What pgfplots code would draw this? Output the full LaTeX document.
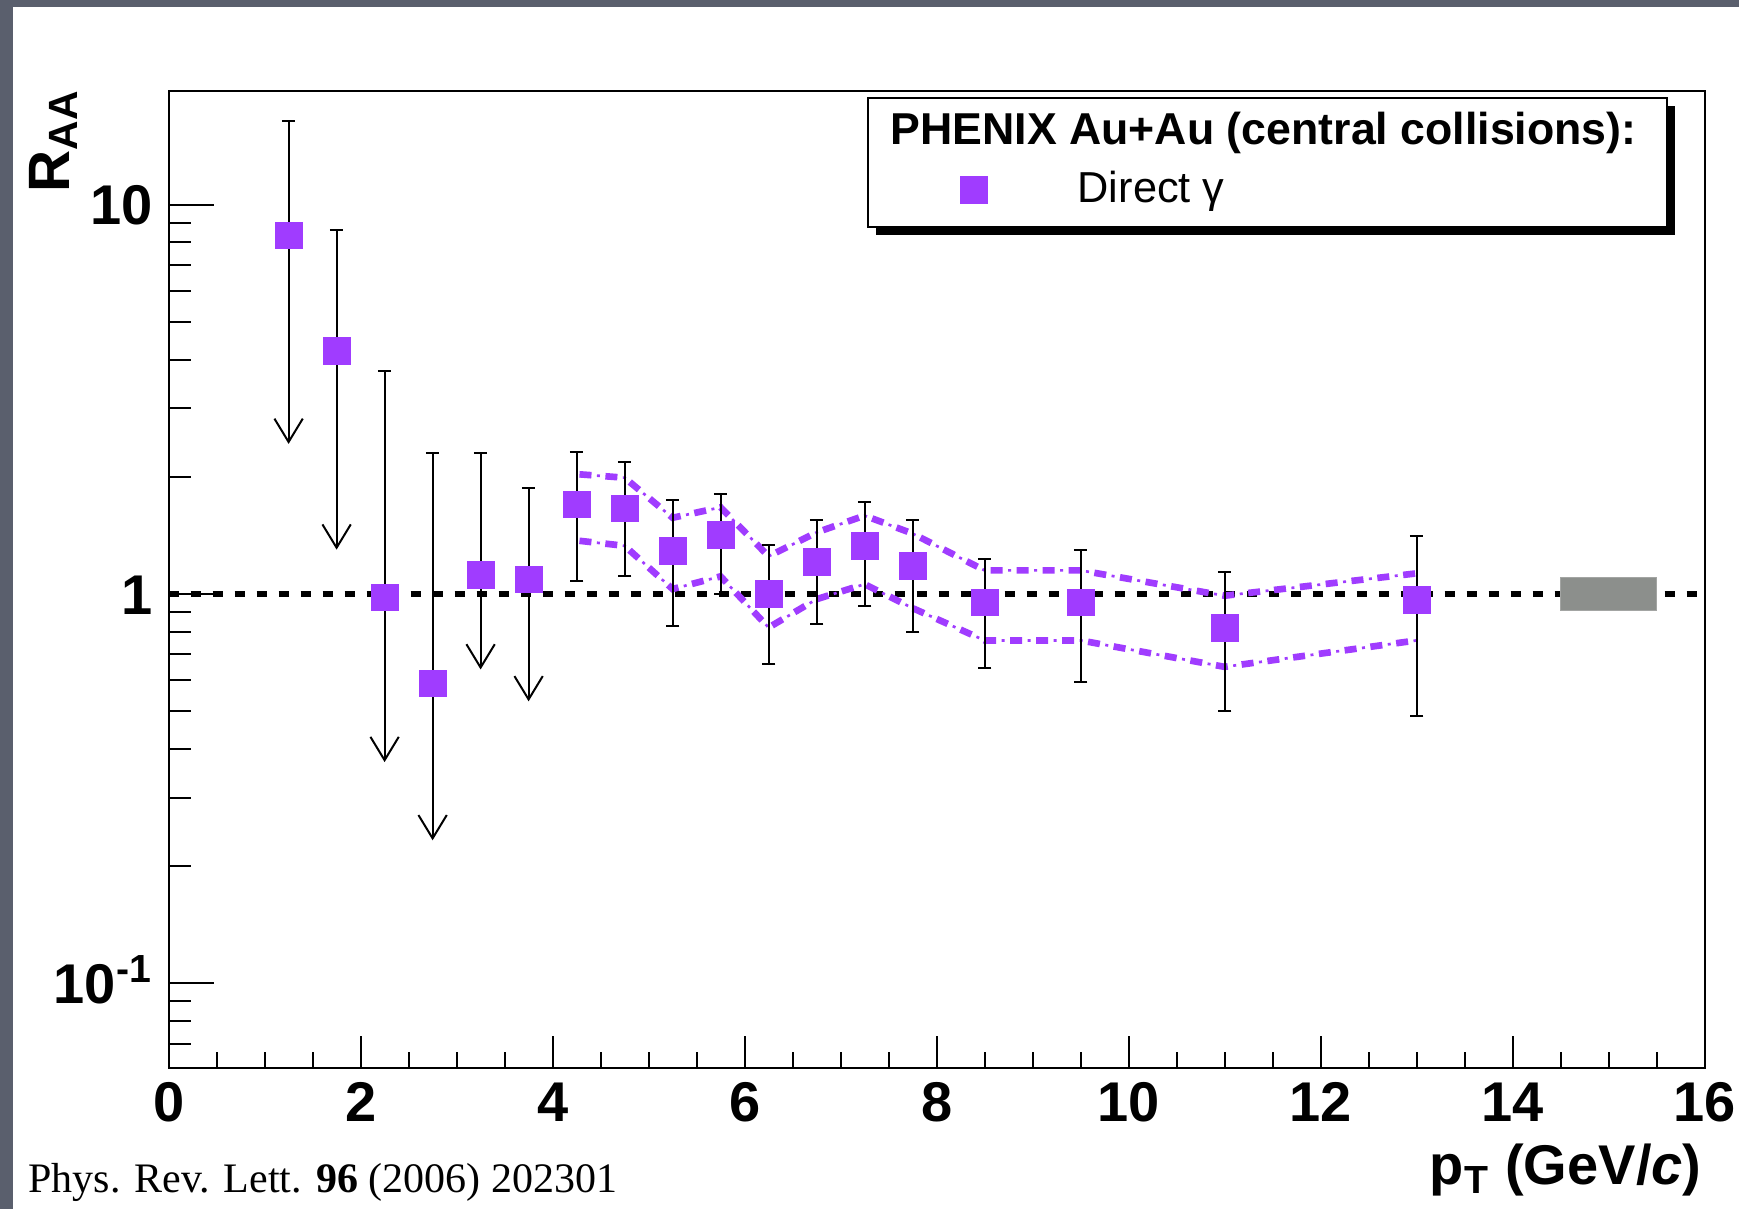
\documentclass[border=0pt]{standalone}
\usepackage{pgfplots}
\pgfplotsset{compat=1.18}
\usepackage{pgfplotstable}
\usepackage{fontspec}
\setmainfont{Liberation Serif}
\setsansfont{Liberation Sans}
\usetikzlibrary{arrows.meta}
\definecolor{slate}{HTML}{5A5F6D}
\definecolor{phpurple}{HTML}{A03CFF}
\definecolor{sysgray}{HTML}{8C8F8C}

% upper limits: marker value, top of error bar, arrow tip
\pgfplotstableread{
x y top tip
1.25 8.35 16.4 2.43
1.75 4.22 8.6 1.30
2.25 0.98 3.73 0.37
2.75 0.59 2.30 0.233
3.25 1.12 2.30 0.64
3.75 1.09 1.87 0.53
}\limdata

% measured points: value, top and bottom of error bar
\pgfplotstableread{
x y top bot
4.25 1.70 2.32 1.08
4.75 1.66 2.18 1.11
5.25 1.29 1.74 0.83
5.75 1.42 1.81 1.00
6.25 1.00 1.34 0.66
6.75 1.21 1.55 0.84
7.25 1.33 1.72 0.93
7.75 1.18 1.55 0.80
8.5 0.952 1.23 0.644
9.5 0.952 1.30 0.593
11.0 0.82 1.137 0.50
13.0 0.965 1.41 0.487
}\measdata

% systematic band
\pgfplotstableread{
x up low
4.28 2.03 1.37
4.75 1.99 1.33
5.25 1.57 1.03
5.75 1.67 1.11
6.25 1.25 0.82
6.75 1.44 0.97
7.25 1.59 1.06
7.75 1.43 0.92
8.5 1.15 0.76
9.5 1.15 0.76
11.0 0.99 0.65
13.0 1.13 0.76
}\banddata

\pgfplotsset{
  bandthick/.style={phpurple, line width=2pt, dash pattern=on 3.6pt off 4.2pt, forget plot},
  bandthin/.style={phpurple, line width=0.8pt, dash pattern=on 0.9pt off 6.9pt, dash phase=2.55pt, forget plot},
}

\begin{document}
\begin{tikzpicture}
\useasboundingbox (0,0) rectangle (521.7pt,362.7pt);
\fill[slate] (0,0) rectangle (521.7pt,362.7pt);
\fill[white] (3.9pt,0) rectangle (521.7pt,360.6pt);

% legend box with shadow
\fill[black] (262.8pt,292.2pt) rectangle (502.5pt,330.9pt);
\filldraw[fill=white, draw=black, line width=0.5pt] (260.4pt,294.6pt) rectangle (500.1pt,333.3pt);
\node[anchor=base west, inner sep=0pt, font=\sffamily\bfseries\fontsize{13.4}{16}\selectfont] at (267pt,319.2pt) {PHENIX Au+Au (central collisions):};
\node[anchor=base west, inner sep=0pt, font=\sffamily\fontsize{13}{15}\selectfont] at (323.1pt,301.8pt) {Direct γ};

% axis titles and reference
\node[rotate=90, anchor=base east, inner sep=0pt, font=\sffamily\bfseries\fontsize{17.5}{20}\selectfont] at (20.7pt,336pt) {R\textsubscript{AA}};
\node[anchor=base east, inner sep=0pt, font=\sffamily\bfseries\fontsize{16.8}{20}\selectfont] at (510.6pt,7.2pt) {p\textsubscript{T} (GeV/\textit{c})};
\node[anchor=base west, inner sep=0pt, font=\rmfamily\fontsize{12.6}{15}\selectfont] at (8.3pt,4.8pt) {Phys. Rev. Lett. \textbf{96} (2006) 202301};

\begin{axis}[
  at={(50.58pt,42.3pt)}, anchor=south west,
  scale only axis, width=460.8pt, height=293.1pt,
  xmin=0, xmax=16, ymode=log, ymin=0.0606, ymax=19.6,
  xtick={0,2,4,6,8,10,12,14,16},
  xticklabels={0,2,4,6,8,10,12,14,16},
  minor x tick num=3,
  ytick={0.1,1,10},
  yticklabels={10\textsuperscript{-1},1,10},
  minor ytick={0.07,0.08,0.09,0.2,0.3,0.4,0.5,0.6,0.7,0.8,0.9,2,3,4,5,6,7,8,9},
  tick align=inside, xtick pos=bottom, ytick pos=left,
  axis line style={line width=0.6pt, black},
  every tick/.append style={black, line width=0.6pt},
  xtick style={/pgfplots/major tick length=9.6pt, /pgfplots/minor tick length=4.8pt},
  ytick style={/pgfplots/major tick length=13.5pt, /pgfplots/minor tick length=6.6pt},
  ticklabel style={font=\sffamily\bfseries\fontsize{16.8}{20}\selectfont},
  xticklabel style={inner ysep=0pt, yshift=-4.2pt},
  yticklabel style={anchor=base east, inner xsep=4.6pt, yshift=-6pt},
]
% reference line at 1
\addplot[black, line width=1.7pt, dash pattern=on 3pt off 3.6pt, forget plot] coordinates {(0,1) (16,1)};
% normalisation uncertainty box
\addplot[fill=sysgray, draw=sysgray!80, line width=0.3pt, forget plot] coordinates {(14.5,0.906) (15.5,0.906) (15.5,1.10) (14.5,1.10) (14.5,0.906)};
% systematic band
\addplot[bandthick] table[x=x, y=up] {\banddata};
\addplot[bandthin] table[x=x, y=up] {\banddata};
\addplot[bandthick] table[x=x, y=low] {\banddata};
\addplot[bandthin] table[x=x, y=low] {\banddata};
% error bars
\addplot[only marks, mark=none, forget plot,
  error bars/.cd, y dir=both, y explicit,
  error bar style={draw=black, line width=0.6pt, solid},
  error mark options={draw=black, line width=0.6pt, mark size=2pt, rotate=90}]
  table[x=x, y=y, y error plus expr=\thisrow{top}-\thisrow{y}, y error minus expr=\thisrow{y}-\thisrow{bot}] {\measdata};
\addplot[only marks, mark=none, forget plot,
  error bars/.cd, y dir=plus, y explicit,
  error bar style={draw=black, line width=0.6pt, solid},
  error mark options={draw=black, line width=0.6pt, mark size=2pt, rotate=90}]
  table[x=x, y=y, y error plus expr=\thisrow{top}-\thisrow{y}] {\limdata};
% upper-limit arrows
\addplot[black, line width=0.6pt, -{Straight Barb[length=7pt, width=8.5pt, line width=0.6pt]}, forget plot] coordinates {(1.25,8.35) (1.25,2.43)};
\addplot[black, line width=0.6pt, -{Straight Barb[length=7pt, width=8.5pt, line width=0.6pt]}, forget plot] coordinates {(1.75,4.22) (1.75,1.30)};
\addplot[black, line width=0.6pt, -{Straight Barb[length=7pt, width=8.5pt, line width=0.6pt]}, forget plot] coordinates {(2.25,0.98) (2.25,0.37)};
\addplot[black, line width=0.6pt, -{Straight Barb[length=7pt, width=8.5pt, line width=0.6pt]}, forget plot] coordinates {(2.75,0.59) (2.75,0.233)};
\addplot[black, line width=0.6pt, -{Straight Barb[length=7pt, width=8.5pt, line width=0.6pt]}, forget plot] coordinates {(3.25,1.12) (3.25,0.64)};
\addplot[black, line width=0.6pt, -{Straight Barb[length=7pt, width=8.5pt, line width=0.6pt]}, forget plot] coordinates {(3.75,1.09) (3.75,0.53)};
% markers
\addplot[only marks, mark=square*, mark size=4pt, mark options={fill=phpurple, draw=phpurple, line width=0.2pt}, forget plot] table[x=x, y=y] {\limdata};
\addplot[only marks, mark=square*, mark size=4pt, mark options={fill=phpurple, draw=phpurple, line width=0.2pt}, forget plot] table[x=x, y=y] {\measdata};
% legend marker
\addplot[only marks, mark=square*, mark size=4pt, mark options={fill=phpurple, draw=phpurple, line width=0.2pt}, forget plot] coordinates {(8.39,10.9)};
\end{axis}
\end{tikzpicture}
\end{document}
